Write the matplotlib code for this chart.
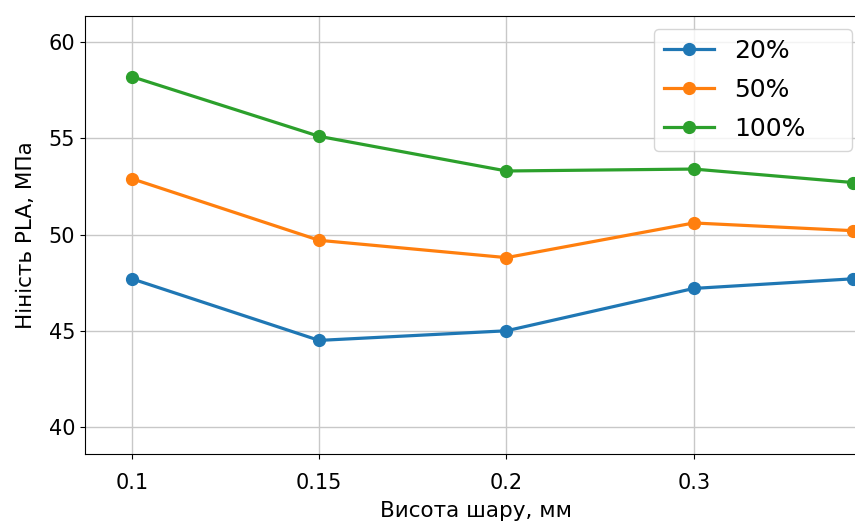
import matplotlib.pyplot as plt

# layer height categories (last one is cut off at the right edge of the picture)
tick_labels = ["0.1", "0.15", "0.2", "0.3"]
x_pos = [0, 1, 2, 3, 3.85]

strength_20 = [47.7, 44.5, 45.0, 47.2, 47.7]
strength_50 = [52.9, 49.7, 48.8, 50.6, 50.2]
strength_100 = [58.2, 55.1, 53.3, 53.4, 52.7]

fig = plt.figure(figsize=(8.55, 5.25), dpi=100)
ax = fig.add_axes([85 / 855, 71 / 525, 783 / 855, 438 / 525])

ax.plot(x_pos, strength_20, "-o", color="#1f77b4", lw=2.3, ms=8.5, label="20%")
ax.plot(x_pos, strength_50, "-o", color="#ff7f0e", lw=2.3, ms=8.5, label="50%")
ax.plot(x_pos, strength_100, "-o", color="#2ca02c", lw=2.3, ms=8.5, label="100%")

ax.set_xticks(range(len(tick_labels)))
ax.set_xticklabels(tick_labels)
ax.set_xlim(-0.25, 3.93)
ax.set_ylim(38.6, 61.35)
ax.set_yticks([40, 45, 50, 55, 60])
ax.tick_params(labelsize=15)
ax.tick_params(axis="x", pad=10)
ax.grid(True, color="#c8c8c8", lw=1)

ax.set_xlabel("Висота шару, мм", fontsize=15.5, labelpad=6)
ax.set_ylabel("Hiність PLA, МПа", fontsize=15.5, labelpad=9)
ax.legend(loc="upper left", fontsize=18, mode="expand", borderaxespad=0,
          labelspacing=0.6, bbox_to_anchor=(0.7267, 0.0, 0.2529, 0.970))

fig.savefig("out.png", dpi=100)
